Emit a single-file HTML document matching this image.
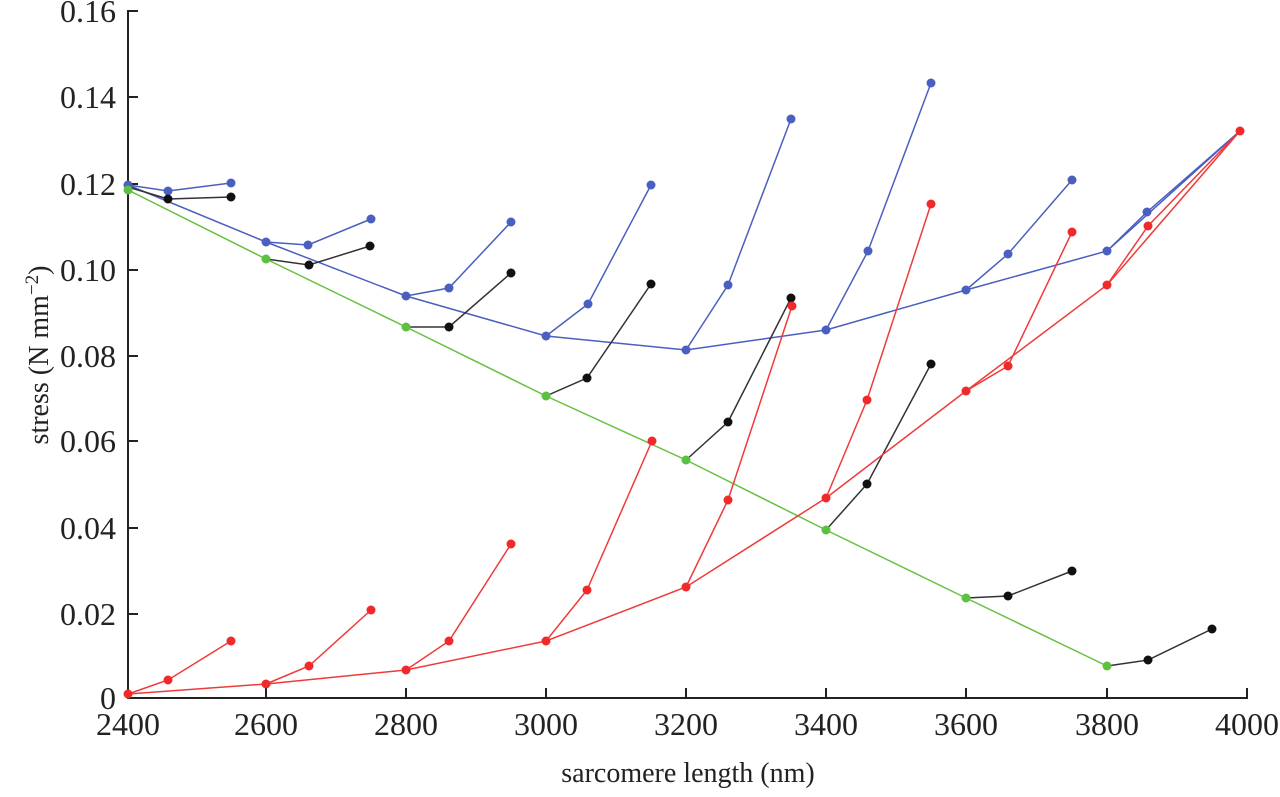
<!DOCTYPE html>
<html><head><meta charset="utf-8"><style>
html,body{margin:0;padding:0;background:#fff;}
svg text{font-family:"Liberation Serif",serif;fill:#222;}
</style></head><body>
<svg width="1280" height="792" xmlns="http://www.w3.org/2000/svg">
<g stroke="#222" stroke-width="2" fill="none">
<line x1="128" y1="10" x2="128" y2="698"/>
<line x1="127" y1="698" x2="1248" y2="698"/>
<path d="M128 11h10M128 97h10M128 184h10M128 270h10M128 356h10M128 441h10M128 528h10M128 614h10"/>
<path d="M266 698v-10M406 698v-10M546 698v-10M686 698v-10M826 698v-10M966 698v-10M1107 698v-10M1247 698v-10"/>
</g>
<g font-size="32" text-anchor="end">
<text x="116" y="22">0.16</text><text x="116" y="108">0.14</text><text x="116" y="195">0.12</text><text x="116" y="281">0.10</text><text x="116" y="367">0.08</text><text x="116" y="452">0.06</text><text x="116" y="539">0.04</text><text x="116" y="625">0.02</text><text x="116" y="709">0</text>
</g>
<g font-size="32" text-anchor="middle">
<text x="128" y="735">2400</text><text x="266" y="735">2600</text><text x="406" y="735">2800</text><text x="546" y="735">3000</text><text x="686" y="735">3200</text><text x="826" y="735">3400</text><text x="966" y="735">3600</text><text x="1107" y="735">3800</text><text x="1247" y="735">4000</text>
<text x="688" y="782" font-size="28">sarcomere length (nm)</text>
<text transform="translate(48,355) rotate(-90)" font-size="28">stress (N mm<tspan baseline-shift="super" font-size="19">−2</tspan>)</text>
</g>
<g fill="none" stroke-width="1.5">
<g stroke="#4a5fbf">
<polyline points="128,185 266,242 406,296 546,336 686,350 826,330 966,290 1107,251 1240,131"/>
<polyline points="128,185 168,191 231,183"/><polyline points="266,242 308,245 371,219"/><polyline points="406,296 449,288 511,222"/><polyline points="546,336 588,304 651,185"/><polyline points="686,350 728,285 791,119"/><polyline points="826,330 868,251 931,83"/><polyline points="966,290 1008,254 1072,180"/><polyline points="1107,251 1147,212 1240,131"/>
</g>
<g stroke="#333">
<polyline points="128,187 168,199 231,197"/><polyline points="266,259 309,265 370,246"/><polyline points="406,327 449,327 511,273"/><polyline points="546,396 587,378 651,284"/><polyline points="686,460 728,422 791,298"/><polyline points="826,530 867,484 931,364"/><polyline points="966,598 1008,596 1072,571"/><polyline points="1107,666 1148,660 1212,629"/>
</g>
<polyline stroke="#66c040" points="128,190 266,259 406,327 546,396 686,460 826,530 966,598 1107,666"/>
<g stroke="#f03a3a">
<polyline points="128,694 266,684 406,670 546,641 686,587 826,498 966,391 1107,285 1240,131"/>
<polyline points="128,694 168,680 231,641"/><polyline points="266,684 309,666 371,610"/><polyline points="406,670 449,641 511,544"/><polyline points="546,641 587,590 652,441"/><polyline points="686,587 728,500 792,306"/><polyline points="826,498 867,400 931,204"/><polyline points="966,391 1008,366 1072,232"/><polyline points="1107,285 1148,226 1240,131"/>
</g>
</g>
<g fill="#4a5fbf">
<circle cx="128" cy="185" r="4.5"/><circle cx="266" cy="242" r="4.5"/><circle cx="406" cy="296" r="4.5"/><circle cx="546" cy="336" r="4.5"/><circle cx="686" cy="350" r="4.5"/><circle cx="826" cy="330" r="4.5"/><circle cx="966" cy="290" r="4.5"/><circle cx="1107" cy="251" r="4.5"/>
<circle cx="168" cy="191" r="4.5"/><circle cx="231" cy="183" r="4.5"/><circle cx="308" cy="245" r="4.5"/><circle cx="371" cy="219" r="4.5"/><circle cx="449" cy="288" r="4.5"/><circle cx="511" cy="222" r="4.5"/><circle cx="588" cy="304" r="4.5"/><circle cx="651" cy="185" r="4.5"/><circle cx="728" cy="285" r="4.5"/><circle cx="791" cy="119" r="4.5"/><circle cx="868" cy="251" r="4.5"/><circle cx="931" cy="83" r="4.5"/><circle cx="1008" cy="254" r="4.5"/><circle cx="1072" cy="180" r="4.5"/><circle cx="1147" cy="212" r="4.5"/>
</g>
<g fill="#111">
<circle cx="168" cy="199" r="4.5"/><circle cx="231" cy="197" r="4.5"/><circle cx="309" cy="265" r="4.5"/><circle cx="370" cy="246" r="4.5"/><circle cx="449" cy="327" r="4.5"/><circle cx="511" cy="273" r="4.5"/><circle cx="587" cy="378" r="4.5"/><circle cx="651" cy="284" r="4.5"/><circle cx="728" cy="422" r="4.5"/><circle cx="791" cy="298" r="4.5"/><circle cx="867" cy="484" r="4.5"/><circle cx="931" cy="364" r="4.5"/><circle cx="1008" cy="596" r="4.5"/><circle cx="1072" cy="571" r="4.5"/><circle cx="1148" cy="660" r="4.5"/><circle cx="1212" cy="629" r="4.5"/>
</g>
<g fill="#5cc040">
<circle cx="128" cy="190" r="4.5"/><circle cx="266" cy="259" r="4.5"/><circle cx="406" cy="327" r="4.5"/><circle cx="546" cy="396" r="4.5"/><circle cx="686" cy="460" r="4.5"/><circle cx="826" cy="530" r="4.5"/><circle cx="966" cy="598" r="4.5"/><circle cx="1107" cy="666" r="4.5"/>
</g>
<g fill="#f02a2a">
<circle cx="128" cy="694" r="4.5"/><circle cx="266" cy="684" r="4.5"/><circle cx="406" cy="670" r="4.5"/><circle cx="546" cy="641" r="4.5"/><circle cx="686" cy="587" r="4.5"/><circle cx="826" cy="498" r="4.5"/><circle cx="966" cy="391" r="4.5"/><circle cx="1107" cy="285" r="4.5"/><circle cx="1240" cy="131" r="4.5"/>
<circle cx="168" cy="680" r="4.5"/><circle cx="231" cy="641" r="4.5"/><circle cx="309" cy="666" r="4.5"/><circle cx="371" cy="610" r="4.5"/><circle cx="449" cy="641" r="4.5"/><circle cx="511" cy="544" r="4.5"/><circle cx="587" cy="590" r="4.5"/><circle cx="652" cy="441" r="4.5"/><circle cx="728" cy="500" r="4.5"/><circle cx="792" cy="306" r="4.5"/><circle cx="867" cy="400" r="4.5"/><circle cx="931" cy="204" r="4.5"/><circle cx="1008" cy="366" r="4.5"/><circle cx="1072" cy="232" r="4.5"/><circle cx="1148" cy="226" r="4.5"/>
</g>
</svg>
</body></html>
